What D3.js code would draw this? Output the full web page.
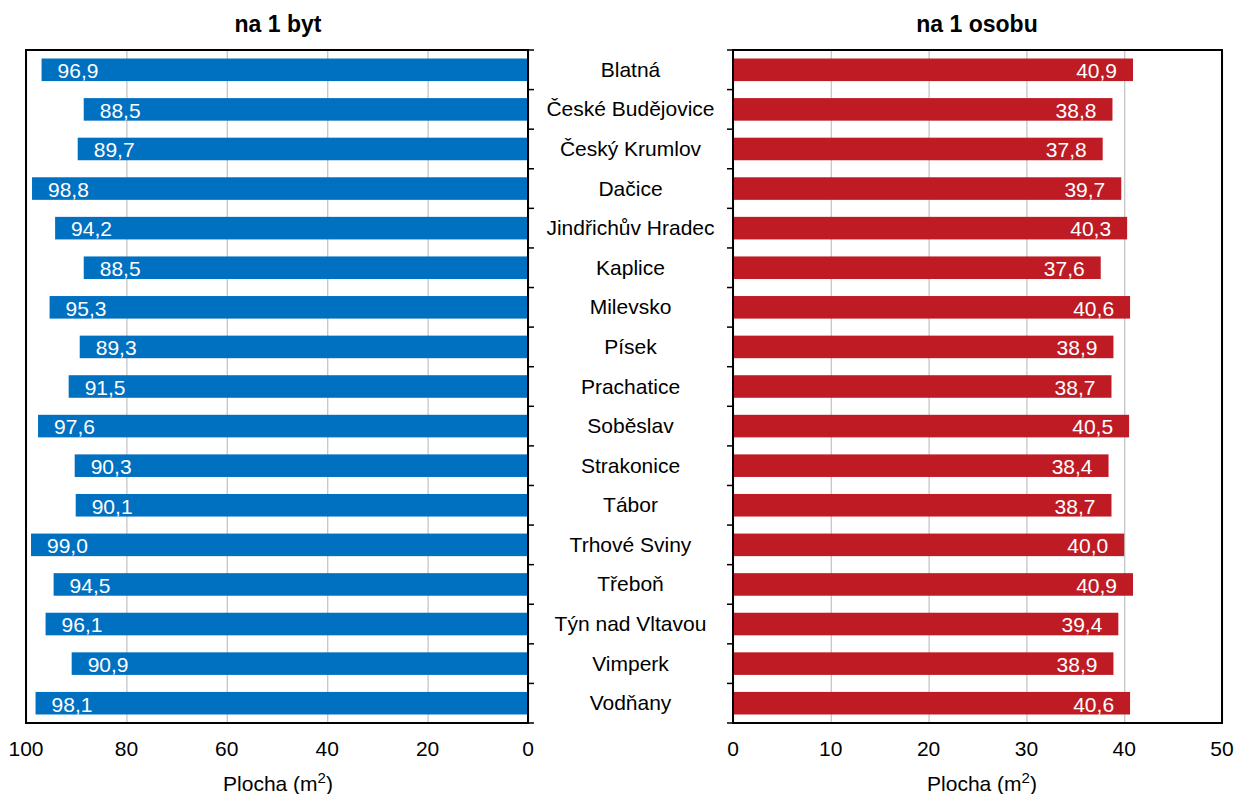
<!DOCTYPE html>
<html>
<head>
<meta charset="utf-8">
<script src="https://cdn.jsdelivr.net/npm/d3@7/dist/d3.min.js"></script>
<style>
  html, body { margin: 0; padding: 0; background: #fff; }
  svg { display: block; font-family: Arial, "Liberation Sans", sans-serif; }
</style>
</head>
<body>
<svg id="chart" width="1237" height="794"></svg>
<script>
const categories = ["Blatná", "České Budějovice", "Český Krumlov", "Dačice", "Jindřichův Hradec", "Kaplice", "Milevsko", "Písek", "Prachatice", "Soběslav", "Strakonice", "Tábor", "Trhové Sviny", "Třeboň", "Týn nad Vltavou", "Vimperk", "Vodňany"];
const perDwelling = [96.9, 88.5, 89.7, 98.8, 94.2, 88.5, 95.3, 89.3, 91.5, 97.6, 90.3, 90.1, 99.0, 94.5, 96.1, 90.9, 98.1];
const perPerson = [40.9, 38.8, 37.8, 39.7, 40.3, 37.6, 40.6, 38.9, 38.7, 40.5, 38.4, 38.7, 40.0, 40.9, 39.4, 38.9, 40.6];
const leftTicks = [100, 80, 60, 40, 20, 0];
const rightTicks = [0, 10, 20, 30, 40, 50];
const leftTitle = "na 1 byt";
const rightTitle = "na 1 osobu";
const axisTitle = "Plocha (m";
const axisSup = "2";

const svg = d3.select("#chart");
const plotTop = 50, plotBottom = 723;
const L = {x0: 26, x1: 528};
const R = {x0: 733, x1: 1222};
const blue = "#0070C0", red = "#BE1B24";
const fmt = v => d3.format(".1f")(v).replace(".", ",");

const y = d3.scaleBand().domain(categories).range([plotTop, plotBottom]).paddingInner(0.43).paddingOuter(0.215);
const yb = d3.scaleBand().domain(categories).range([plotTop, plotBottom]);
const xL = d3.scaleLinear().domain([0, 100]).range([L.x1, L.x0]);
const xR = d3.scaleLinear().domain([0, 50]).range([R.x0, R.x1]);

function panel(x, data, ticks, color, side, title, titleX, axTitleX) {
  const g = svg.append("g");
  // gridlines
  g.append("g").attr("transform", `translate(0,${plotBottom})`)
    .call(d3.axisBottom(x).tickValues(ticks).tickSize(-(plotBottom - plotTop)).tickFormat(""))
    .call(a => a.select(".domain").remove())
    .call(a => a.selectAll("line").attr("stroke", "#c6c6c6").attr("stroke-width", 1.3));
  // bars
  g.selectAll("rect.bar").data(data).join("rect")
    .attr("x", d => Math.min(x(0), x(d)))
    .attr("width", d => Math.abs(x(d) - x(0)))
    .attr("y", (d, i) => y(categories[i]))
    .attr("height", y.bandwidth())
    .attr("fill", color);
  // value labels
  g.selectAll("text.val").data(data).join("text")
    .attr("x", d => side === "left" ? x(d) + 16 : x(d) - 16)
    .attr("y", (d, i) => y(categories[i]) + y.bandwidth() / 2 + 8.3)
    .attr("text-anchor", side === "left" ? "start" : "end")
    .attr("fill", "#fff")
    .attr("font-size", 21)
    .text(fmt);
  // frame
  const x0 = Math.min(x.range()[0], x.range()[1]), x1 = Math.max(x.range()[0], x.range()[1]);
  g.append("rect").attr("x", x0).attr("y", plotTop).attr("width", x1 - x0).attr("height", plotBottom - plotTop)
    .attr("fill", "none").attr("stroke", "#000").attr("stroke-width", 2);
  // category boundary ticks
  const bounds = categories.map(c => yb(c)).concat([plotBottom]);
  const tx = side === "left" ? x1 : x0;
  g.selectAll("line.ctick").data(bounds).join("line")
    .attr("x1", tx).attr("x2", side === "left" ? tx + 6 : tx - 6)
    .attr("y1", d => d).attr("y2", d => d)
    .attr("stroke", "#000").attr("stroke-width", 1.5);
  // value tick labels
  g.selectAll("text.tick").data(ticks).join("text")
    .attr("x", d => x(d)).attr("y", 756)
    .attr("text-anchor", "middle").attr("font-size", 21).attr("fill", "#000")
    .text(d => d);
  // axis title
  const at = g.append("text").attr("x", axTitleX).attr("y", 791)
    .attr("text-anchor", "middle").attr("font-size", 21).attr("fill", "#000");
  at.append("tspan").text(axisTitle);
  at.append("tspan").attr("font-size", 15).attr("dy", -8).text(axisSup);
  at.append("tspan").attr("dy", 8).text(")");
  // title
  g.append("text").attr("x", titleX).attr("y", 31.5)
    .attr("text-anchor", "middle").attr("font-size", 23).attr("font-weight", "bold").attr("fill", "#000")
    .text(title);
}

panel(xL, perDwelling, leftTicks, blue, "left", leftTitle, 278, 278);
panel(xR, perPerson, rightTicks, red, "right", rightTitle, 977, 982);

// category labels
svg.append("g").selectAll("text").data(categories).join("text")
  .attr("x", (L.x1 + R.x0) / 2)
  .attr("y", d => yb(d) + yb.bandwidth() / 2 + 7)
  .attr("text-anchor", "middle").attr("font-size", 21).attr("fill", "#000")
  .text(d => d);
</script>
</body>
</html>
